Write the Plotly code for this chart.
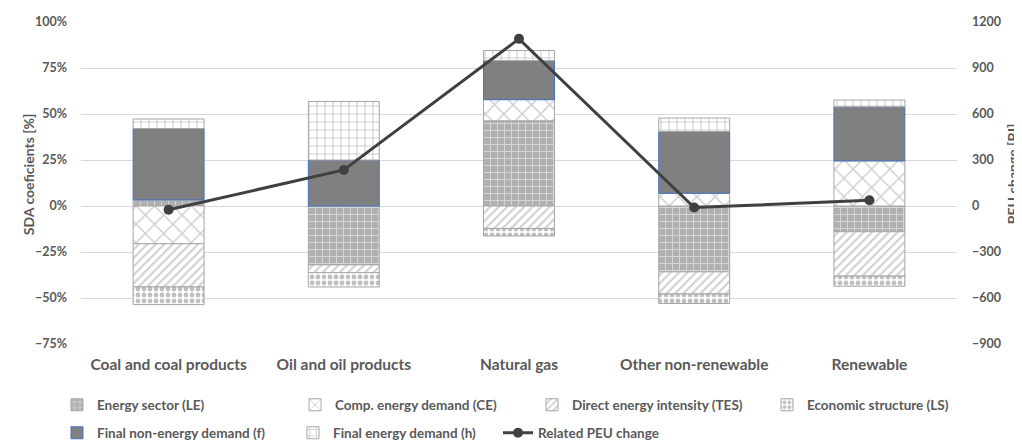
import plotly.graph_objects as go

categories = ["Coal and coal products", "Oil and oil products", "Natural gas",
              "Other non-renewable", "Renewable"]
LE = [3.3, -32.0, 46.3, -35.8, -14.0]
CE = [-20.5, 0.0, 11.5, 6.9, 24.5]
TES = [-23.5, -4.2, -12.2, -12.0, -24.1]
LS = [-9.6, -7.8, -4.1, -5.2, -5.5]
F = [38.8, 25.0, 21.2, 33.6, 29.4]
H = [5.2, 31.8, 5.5, 7.3, 3.7]
PEU = [-25, 235, 1090, -10, 37]

FONT = "Lato"
TXT = "#595959"
EDGE = "#a6a6a6"
OFF = 8  # page body margin
W, HGT = 1022 - OFF, 443 - OFF

fig = go.Figure()

# legend slots: (text-left x in px, row centre y in px), screen coordinates
slots = [(97, 405), (335, 405), (572, 405), (807, 405),
         (97, 433), (333, 433), (538, 433)]


def legend_name(i):
    return "legend" if i == 0 else f"legend{i + 1}"


def add_bar(i, name, vals, pattern, color="white", line_color=EDGE):
    fig.add_trace(go.Bar(
        x=categories, y=vals, name=name, legend=legend_name(i),
        marker=dict(color=color, line=dict(color=line_color, width=1), pattern=pattern),
    ))


add_bar(0, "Energy sector (LE)", LE,
        dict(shape="+", fgcolor="#ffffff", bgcolor="#b0b0b0", size=7, solidity=0.25))
add_bar(1, "Comp. energy demand (CE)", CE,
        dict(shape="x", fgcolor="#9a9a9a", bgcolor="#ffffff", size=13, solidity=0.2))
add_bar(2, "Direct energy intensity (TES)", TES,
        dict(shape="/", fgcolor="#a0a0a0", bgcolor="#ffffff", size=6, solidity=0.35))
add_bar(3, "Economic structure (LS)", LS,
        dict(shape=".", fgcolor="#808080", bgcolor="#ffffff", size=6, solidity=0.5))
add_bar(4, "Final non-energy demand (f)", F,
        dict(shape=""), color="#808080", line_color="#4472c4")
add_bar(5, "Final energy demand (h)", H,
        dict(shape="+", fgcolor="#9a9a9a", bgcolor="#ffffff", size=8, solidity=0.25))

fig.add_trace(go.Scatter(
    x=categories, y=PEU, name="Related PEU change", yaxis="y2", legend=legend_name(6),
    mode="lines+markers", line=dict(color="#404040", width=3),
    marker=dict(color="#404040", size=10),
))

legends = {}
for i, (tx, ty) in enumerate(slots):
    legends[legend_name(i)] = dict(
        orientation="h", xref="container", yref="container",
        x=(tx - OFF - 40) / W, y=1 - (ty - OFF) / HGT, xanchor="left", yanchor="middle",
        font=dict(family=FONT, size=13.5, color=TXT, weight="bold"),
        bgcolor="rgba(0,0,0,0)", itemwidth=30,
    )

L, T, B = 81 - OFF, 21.5 - OFF, 443 - 344
R = W - (957 - OFF)
PH = HGT - T - B
PW = W - L - R

fig.update_layout(
    width=W, height=HGT,
    margin=dict(l=L, r=R, t=T, b=B, autoexpand=False),
    paper_bgcolor="white", plot_bgcolor="white",
    barmode="relative", bargap=0.595,
    font=dict(family=FONT, color=TXT),
    showlegend=True,
    **legends,
    xaxis=dict(showgrid=False, showline=False, ticks="",
               tickfont=dict(family=FONT, size=15.5, color=TXT, weight="bold"),
               ticklabelstandoff=9),
    yaxis=dict(range=[-75, 100], dtick=25, ticksuffix="%", showgrid=True,
               gridcolor="#d9d9d9", gridwidth=1, zeroline=False, ticks="",
               tickfont=dict(family=FONT, size=12.5, color=TXT, weight="bold"),
               ticklabelstandoff=13),
    yaxis2=dict(range=[-900, 1200], dtick=300, overlaying="y", side="right",
                showgrid=False, zeroline=False, ticks="",
                tickfont=dict(family=FONT, size=12.5, color=TXT, weight="bold"),
                ticklabelstandoff=14),
)

fig.add_annotation(text="SDA coeficients [%]", xref="paper", yref="paper",
                   x=(28 - OFF - L) / PW, y=(344 - 174) / PH, textangle=-90,
                   showarrow=False, xanchor="center", yanchor="middle",
                   font=dict(family=FONT, size=14, color=TXT, weight="bold"))
fig.add_annotation(text="PEU change [PJ]", xref="paper", yref="paper",
                   x=(1012 - OFF - L) / PW, y=(344 - 174) / PH, textangle=-90,
                   showarrow=False, xanchor="center", yanchor="middle",
                   font=dict(family=FONT, size=14, color=TXT, weight="bold"))

fig.write_html("out.html")
